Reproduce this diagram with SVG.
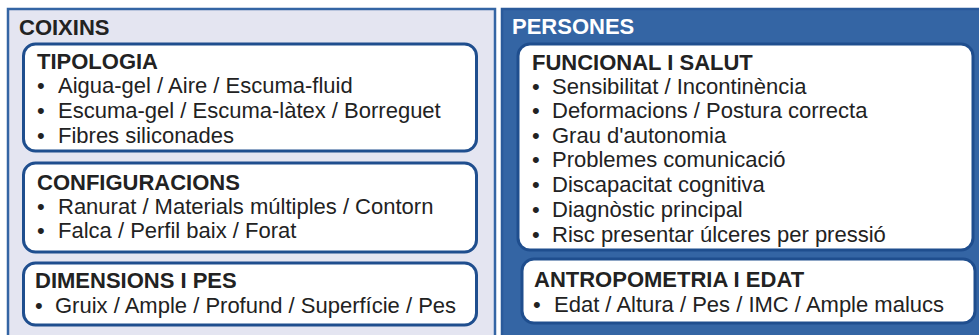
<svg xmlns="http://www.w3.org/2000/svg" width="979" height="335" viewBox="0 0 979 335">
<style>
text{font-family:"Liberation Sans",Arial,sans-serif;font-size:22px;fill:#222222}
.h{font-weight:bold}
.w{fill:#ffffff}
.panelL{fill:#e4e5f1;stroke:#3465a4;stroke-width:2.5}
.panelR{fill:#3465a4;stroke:#2a5a9a;stroke-width:2.5}
.box{fill:#ffffff;stroke:#1f4e8e;stroke-width:3}
</style>
<g id="coixins">
<rect class="panelL" x="8" y="9" width="487" height="340"/>
<text class="h" x="19" y="35">COIXINS</text>
</g>
<g id="persones">
<rect class="panelR" x="502" y="9" width="490" height="340"/>
<text class="h w" x="512" y="34">PERSONES</text>
</g>
<g id="tipologia">
<rect class="box" x="23.5" y="44" width="453" height="107" rx="12"/>
<text class="h" x="37" y="69">TIPOLOGIA</text>
<text x="37" y="93">•</text><text x="58" y="93">Aigua-gel / Aire / Escuma-fluid</text>
<text x="37" y="118">•</text><text x="58" y="118">Escuma-gel / Escuma-làtex / Borreguet</text>
<text x="37" y="143">•</text><text x="58" y="143">Fibres siliconades</text>
</g>
<g id="configuracions">
<rect class="box" x="23.5" y="163" width="453" height="89" rx="12"/>
<text class="h" x="37" y="190">CONFIGURACIONS</text>
<text x="37" y="214">•</text><text x="58" y="214">Ranurat / Materials múltiples / Contorn</text>
<text x="37" y="238">•</text><text x="58" y="238">Falca / Perfil baix / Forat</text>
</g>
<g id="dimensions">
<rect class="box" x="23.5" y="263" width="453" height="62" rx="12"/>
<text class="h" x="35" y="288">DIMENSIONS I PES</text>
<text x="35" y="313">•</text><text x="55" y="313">Gruix / Ample / Profund / Superfície / Pes</text>
</g>
<g id="funcional">
<rect class="box" x="518" y="44" width="455" height="206" rx="12"/>
<text class="h" x="532" y="70">FUNCIONAL I SALUT</text>
<text x="532" y="94">•</text><text x="552" y="94">Sensibilitat / Incontinència</text>
<text x="532" y="118">•</text><text x="552" y="118">Deformacions / Postura correcta</text>
<text x="532" y="143">•</text><text x="552" y="143">Grau d'autonomia</text>
<text x="532" y="167">•</text><text x="552" y="167">Problemes comunicació</text>
<text x="532" y="192">•</text><text x="552" y="192">Discapacitat cognitiva</text>
<text x="532" y="217">•</text><text x="552" y="217">Diagnòstic principal</text>
<text x="532" y="242">•</text><text x="552" y="242">Risc presentar úlceres per pressió</text>
</g>
<g id="antropometria">
<rect class="box" x="522" y="259" width="453" height="64" rx="12"/>
<text class="h" x="534" y="287">ANTROPOMETRIA I EDAT</text>
<text x="533" y="312">•</text><text x="554" y="312">Edat / Altura / Pes / IMC / Ample malucs</text>
</g>
<g id="connectors"/>
</svg>
